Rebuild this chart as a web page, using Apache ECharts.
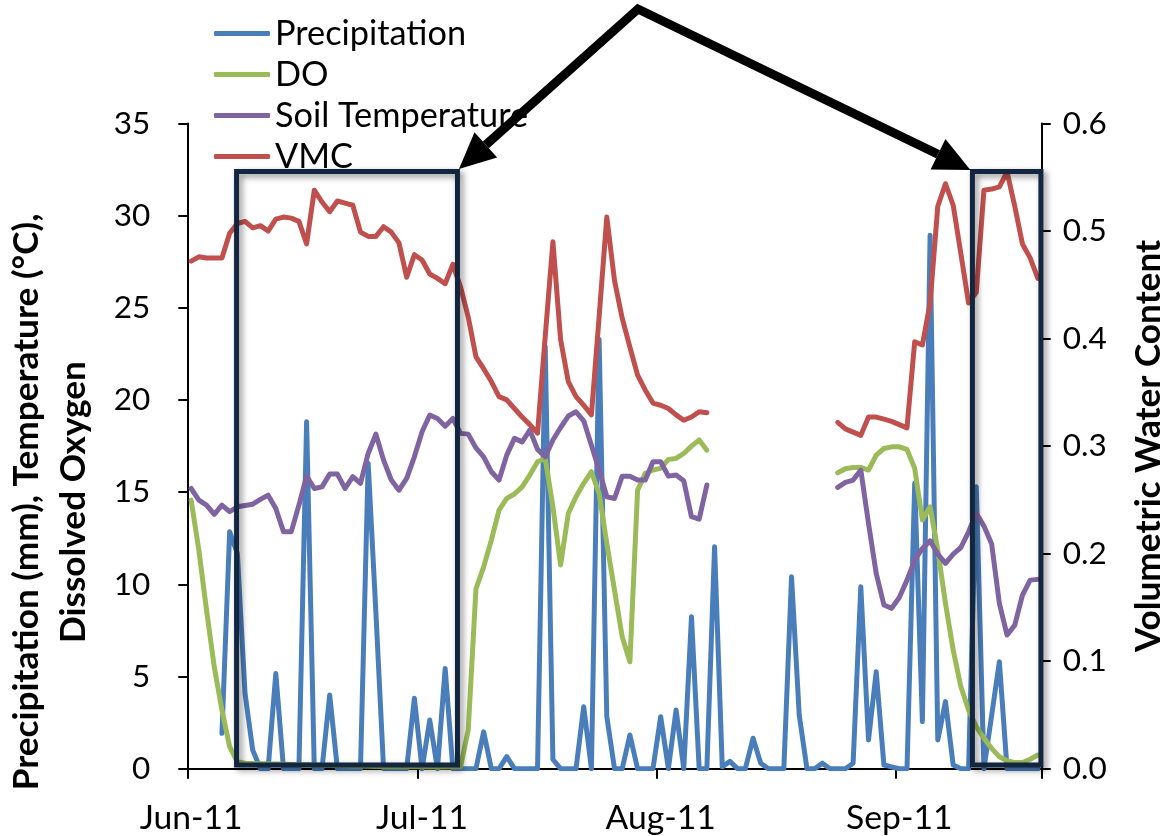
<!DOCTYPE html>
<html>
<head>
<meta charset="utf-8">
<title>Precipitation, DO, Soil Temperature and VMC, Jun–Sep 2011</title>
<script src="https://cdn.jsdelivr.net/npm/echarts@6/dist/echarts.min.js"></script>
<style>
  html, body { margin: 0; padding: 0; background: #ffffff; }
  #chart { width: 1170px; height: 836px; }
</style>
</head>
<body>
<div id="chart"></div>
<script>
// ---- data ---------------------------------------------------------------
// One value per day, 1 June 2011 .. 19 September 2011 (111 days).
const firstDay = '2011-06-01';
const dayCount = 111;

// Month labels shown on the date axis.
const monthLabels = {
  '2011-06-01': 'Jun-11',
  '2011-07-01': 'Jul-11',
  '2011-08-01': 'Aug-11',
  '2011-09-01': 'Sep-11'
};

// Daily precipitation (mm)
const precipitation = [
  null, null, null, null, 1.92, 12.85, 11.68, 4.09, 1.01, 0,
  0, 5.17, 0, 0, 0, 18.82, 0, 0, 4.0, 0,
  0, 0, 0, 16.56, 8.5, 0, 0, 0, 0, 3.82,
  0, 2.64, 0, 5.44, 0, 0, 0, 0, 2.0, 0,
  0, 0.65, 0, 0, 0, 0, 22.9, 0.5, 0, 0,
  0, 3.36, 0, 23.3, 2.82, 0, 0, 1.83, 0, 0,
  0, 2.82, 0, 3.18, 0, 8.24, 0, 0, 12.04, 0.1,
  0.4, 0, 0, 1.65, 0.3, 0, 0, 0, 10.41, 2.91,
  0, 0, 0.3, 0, 0, 0, 0.3, 9.87, 1.56, 5.26,
  0.2, 0.1, 0, 0, 15.48, 2.55, 28.94, 1.56, 3.64, 0.2,
  0, 0, 15.3, 0, 2.9, 5.8, 0, 0, 0, 0,
  0
];

// Dissolved oxygen (mg/L)
const dissolvedOxygen = [
  14.57, 11.86, 8.6, 5.53, 3.18, 1.19, 0.38, 0.3, 0.28, 0.27,
  0.26, 0.25, 0.24, 0.23, 0.22, 0.21, 0.2, 0.19, 0.18, 0.17,
  0.16, 0.15, 0.14, 0.13, 0.12, 0.12, 0.11, 0.11, 0.1, 0.1,
  0.1, 0.09, 0.09, 0.09, 0.1, 0.11, 2.1, 9.75, 10.95, 12.4,
  14.03, 14.66, 14.9, 15.29, 15.93, 16.65, 16.83, 14.2, 11.05, 13.85,
  14.75, 15.48, 16.11, 14.93, 12.22, 9.69, 7.16, 5.8, 15.11, 16.02,
  16.2, 16.29, 16.78, 16.83, 17.1, 17.5, 17.83, 17.28, null, null,
  null, null, null, null, null, null, null, null, null, null,
  null, null, null, null, 16.05, 16.27, 16.34, 16.34, 16.2, 17.01,
  17.37, 17.46, 17.46, 17.32, 16.29, 13.49, 14.21, 11.86, 8.97, 6.44,
  4.45, 3.18, 2.28, 1.65, 1.1, 0.65, 0.43, 0.33, 0.33, 0.51,
  0.74
];

// Soil temperature (°C)
const soilTemperature = [
  15.2, 14.57, 14.3, 13.8, 14.3, 13.94, 14.21, 14.28, 14.35, 14.61,
  14.84, 14.12, 12.85, 12.85, 14.3, 15.87, 15.2, 15.29, 15.98, 15.98,
  15.2, 15.84, 15.48, 17.1, 18.15, 16.74, 15.66, 15.11, 15.75, 16.92,
  18.28, 19.18, 19.0, 18.58, 19.0, 18.19, 18.15, 17.4, 16.92, 16.11,
  15.66, 17.01, 17.92, 17.73, 18.37, 17.32, 16.92, 17.83, 18.51, 19.13,
  19.36, 18.87, 17.55, 16.2, 14.75, 14.66, 15.87, 15.87, 15.66, 15.66,
  16.65, 16.65, 15.87, 15.93, 15.62, 13.67, 13.54, 15.39, null, null,
  null, null, null, null, null, null, null, null, null, null,
  null, null, null, null, 15.26, 15.53, 15.66, 16.2, 13.31, 10.6,
  8.88, 8.7, 9.29, 10.23, 11.32, 11.95, 12.36, 11.64, 11.14, 11.64,
  12.0, 12.85, 13.85, 13.16, 12.19, 8.97, 7.25, 7.79, 9.41, 10.23,
  10.27
];

// Volumetric water content (m³/m³)
const vmc = [
  0.472, 0.476, 0.475, 0.475, 0.475, 0.498, 0.507, 0.509, 0.503, 0.505,
  0.500, 0.511, 0.513, 0.512, 0.509, 0.488, 0.538, 0.527, 0.518, 0.528,
  0.526, 0.524, 0.499, 0.495, 0.495, 0.504, 0.499, 0.489, 0.457, 0.478,
  0.473, 0.460, 0.456, 0.451, 0.469, 0.448, 0.420, 0.383, 0.372, 0.360,
  0.346, 0.343, 0.335, 0.327, 0.320, 0.312, 0.402, 0.490, 0.399, 0.360,
  0.346, 0.338, 0.329, 0.420, 0.513, 0.454, 0.419, 0.392, 0.366, 0.352,
  0.340, 0.338, 0.335, 0.329, 0.324, 0.327, 0.332, 0.331, null, null,
  null, null, null, null, null, null, null, null, null, null,
  null, null, null, null, 0.322, 0.316, 0.313, 0.310, 0.327, 0.327,
  0.325, 0.323, 0.320, 0.317, 0.397, 0.394, 0.433, 0.523, 0.544, 0.524,
  0.479, 0.433, 0.443, 0.538, 0.539, 0.541, 0.555, 0.523, 0.488, 0.475,
  0.456
];

// Axis titles
const leftTitleLines = ['Precipitation (mm), Temperature (°C),', 'Dissolved Oxygen'];
const rightTitle = 'Volumetric Water Content';

// Highlighted periods: day-slot range on the date axis, top/bottom on the left axis.
const highlightPeriods = [
  { fromSlot: 6.4, toSlot: 35.1, top: 32.4, bottom: 0.2 },
  { fromSlot: 102.0, toSlot: 110.9, top: 32.4, bottom: 0.2 }
];

// ---- helpers ------------------------------------------------------------
function buildDays(first, n) {
  const out = [];
  const d0 = new Date(first + 'T00:00:00Z');
  for (let i = 0; i < n; i++) {
    const d = new Date(d0.getTime() + i * 86400000);
    out.push(d.toISOString().slice(0, 10));
  }
  return out;
}
const days = buildDays(firstDay, dayCount);
const isMonthStart = (idx) => monthLabels[days[idx]] !== undefined;

const FONT = 'Lato';

// Pick a font size that makes `text` about `width` pixels wide.
const measureCtx = document.createElement('canvas').getContext('2d');
function fitFontSize(text, weight, width) {
  measureCtx.font = weight + ' 100px ' + FONT;
  const w = measureCtx.measureText(text).width;
  return Math.round(1000 * width / w) / 10;
}

const legendFontSize = fitFontSize('Precipitation', 'normal', 191);
const dateFontSize = fitFontSize('Jun-11', 'normal', 103);
const tickFontSize = 31.5;
const titleFontSize = fitFontSize(leftTitleLines[0], 'bold', 577);

const COLORS = {
  precipitation: '#4a7ebb',
  dissolvedOxygen: '#9bbb59',
  soilTemperature: '#8064a2',
  vmc: '#c0504d'
};
const AXIS_COLOR = '#000000';

function lineSeries(name, data, color, yAxisIndex) {
  return {
    name: name,
    type: 'line',
    data: data,
    yAxisIndex: yAxisIndex,
    showSymbol: false,
    symbol: 'none',
    connectNulls: false,
    animation: false,
    z: 2,
    lineStyle: { color: color, width: 5, cap: 'round', join: 'round' },
    itemStyle: { color: color },
    emphasis: { disabled: true }
  };
}

const chart = echarts.init(document.getElementById('chart'), null, { renderer: 'canvas' });

const option = {
  animation: false,
  backgroundColor: '#ffffff',
  textStyle: { fontFamily: FONT },
  grid: {
    left: 187.3,
    right: 128.3,
    top: 123.5,
    bottom: 67.3,
    containLabel: false,
    outerBoundsMode: 'none'
  },
  legend: {
    orient: 'vertical',
    left: 214,
    top: 13,
    icon: 'roundRect',
    itemWidth: 56,
    itemHeight: 5,
    itemGap: 0,
    padding: 0,
    selectedMode: false,
    textStyle: { fontFamily: FONT, fontSize: legendFontSize, color: '#000000', lineHeight: 41 },
    data: ['Precipitation', 'DO', 'Soil Temperature', 'VMC']
  },
  xAxis: {
    type: 'category',
    data: days,
    boundaryGap: true,
    axisLine: { lineStyle: { color: AXIS_COLOR, width: 2 } },
    axisTick: { show: true, interval: isMonthStart, alignWithLabel: false, length: 10, lineStyle: { color: AXIS_COLOR, width: 2 } },
    axisLabel: {
      interval: isMonthStart,
      formatter: (value) => monthLabels[value] || '',
      fontFamily: FONT,
      fontSize: dateFontSize,
      lineHeight: dateFontSize,
      color: '#000000',
      margin: 818 - 769 - dateFontSize / 2
    },
    splitLine: { show: false }
  },
  yAxis: [
    {
      type: 'value',
      min: 0,
      max: 35,
      interval: 5,
      position: 'left',
      axisLine: { show: true, lineStyle: { color: AXIS_COLOR, width: 2 } },
      axisTick: { show: true, length: 9, lineStyle: { color: AXIS_COLOR, width: 2 } },
      axisLabel: { fontFamily: FONT, fontSize: tickFontSize, color: '#000000', margin: 37 },
      splitLine: { show: false }
    },
    {
      type: 'value',
      min: 0,
      max: 0.6,
      interval: 0.1,
      position: 'right',
      axisLine: { show: true, lineStyle: { color: AXIS_COLOR, width: 2 } },
      axisTick: { show: true, length: 9, lineStyle: { color: AXIS_COLOR, width: 2 } },
      axisLabel: { fontFamily: FONT, fontSize: tickFontSize, color: '#000000', margin: 21, formatter: (v) => v.toFixed(1) },
      splitLine: { show: false }
    }
  ],
  series: [
    lineSeries('Precipitation', precipitation, COLORS.precipitation, 0),
    lineSeries('DO', dissolvedOxygen, COLORS.dissolvedOxygen, 0),
    lineSeries('Soil Temperature', soilTemperature, COLORS.soilTemperature, 0),
    lineSeries('VMC', vmc, COLORS.vmc, 1)
  ]
};

chart.setOption(option);

// ---- axis titles, highlight boxes and pointer arrows ----------------------
function slotToX(slot) {
  const c0 = chart.convertToPixel({ xAxisIndex: 0 }, 0);
  const c1 = chart.convertToPixel({ xAxisIndex: 0 }, 1);
  const band = c1 - c0;
  return c0 - band / 2 + slot * band;
}
function valueToY(v) {
  return chart.convertToPixel({ yAxisIndex: 0 }, v);
}

const graphics = [];

// Rotated axis titles (read bottom to top)
graphics.push({
  type: 'text',
  z: 5,
  silent: true,
  x: 50.5,
  y: 502,
  rotation: Math.PI / 2,
  style: {
    text: leftTitleLines.join('\n'),
    font: 'bold ' + titleFontSize + 'px ' + FONT,
    fill: '#000000',
    align: 'center',
    verticalAlign: 'middle',
    lineHeight: 47
  }
});
graphics.push({
  type: 'text',
  z: 5,
  silent: true,
  x: 1149,
  y: 446,
  rotation: Math.PI / 2,
  style: {
    text: rightTitle,
    font: 'bold ' + titleFontSize + 'px ' + FONT,
    fill: '#000000',
    align: 'center',
    verticalAlign: 'middle'
  }
});

const boxes = highlightPeriods.map((p) => {
  const x1 = slotToX(p.fromSlot);
  const x2 = slotToX(p.toSlot);
  const y1 = valueToY(p.top);
  const y2 = valueToY(p.bottom);
  return { x: x1, y: y1, width: x2 - x1, height: y2 - y1 };
});

boxes.forEach((b) => {
  graphics.push({
    type: 'rect',
    z: 10,
    silent: true,
    shape: { x: b.x, y: b.y, width: b.width, height: b.height },
    style: {
      fill: 'none',
      stroke: '#13263f',
      lineWidth: 5,
      shadowBlur: 6,
      shadowColor: 'rgba(0,0,0,0.45)',
      shadowOffsetX: 3,
      shadowOffsetY: 3
    }
  });
});

// Two arrows from a common apex above the plot to the top corners of the boxes.
const apex = [638, 9];
const tipLeft = [boxes[0].x + boxes[0].width + 1.5, boxes[0].y - 2.5];
const tipRight = [boxes[1].x - 2, boxes[1].y - 1.5];
const headLen = 36;
const headHalf = 17;

function arrowHead(from, tip) {
  const dx = tip[0] - from[0];
  const dy = tip[1] - from[1];
  const len = Math.sqrt(dx * dx + dy * dy);
  const ux = dx / len, uy = dy / len;
  const bx = tip[0] - headLen * ux, by = tip[1] - headLen * uy;
  const px = -uy, py = ux;
  return {
    base: [bx, by],
    points: [tip, [bx + headHalf * px, by + headHalf * py], [bx - headHalf * px, by - headHalf * py]]
  };
}
const headL = arrowHead(apex, tipLeft);
const headR = arrowHead(apex, tipRight);

graphics.push({
  type: 'polyline',
  z: 100,
  silent: true,
  shape: { points: [headL.base, apex, headR.base] },
  style: { stroke: '#000000', lineWidth: 9, lineJoin: 'miter', miterLimit: 10, fill: 'none' }
});
graphics.push({
  type: 'polygon', z: 100, silent: true,
  shape: { points: headL.points }, style: { fill: '#000000' }
});
graphics.push({
  type: 'polygon', z: 100, silent: true,
  shape: { points: headR.points }, style: { fill: '#000000' }
});

chart.setOption({ graphic: graphics });
</script>
</body>
</html>
